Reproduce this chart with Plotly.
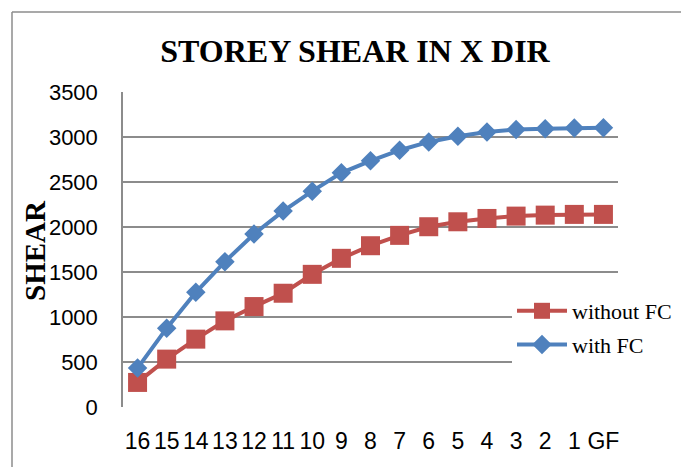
import plotly.graph_objects as go

storeys = ["16", "15", "14", "13", "12", "11", "10", "9", "8", "7", "6", "5", "4", "3", "2", "1", "GF"]
without_fc = [273, 532, 754, 957, 1116, 1264, 1474, 1652, 1792, 1907, 2003, 2058, 2095, 2121, 2132, 2140, 2140]
with_fc = [432, 876, 1275, 1615, 1922, 2177, 2398, 2602, 2735, 2853, 2945, 3008, 3056, 3082, 3093, 3100, 3104]
y_ticks = [0, 500, 1000, 1500, 2000, 2500, 3000, 3500]

RED = "#C0504D"
BLUE = "#4F81BD"
GRID = "#8c8c8c"

fig = go.Figure()
fig.add_trace(go.Scatter(
    x=storeys, y=without_fc, name="without FC", mode="lines+markers",
    legendgroup="a",
    line=dict(color=RED, width=4),
    marker=dict(symbol="square", size=19, color=RED),
))
fig.add_trace(go.Scatter(
    x=storeys, y=with_fc, name="with FC", mode="lines+markers",
    legendgroup="b",
    line=dict(color=BLUE, width=4),
    marker=dict(symbol="diamond", size=15, color=BLUE),
))

# page body has an 8px margin: work in screen pixels and shift
OFF = 8
W, H = 689 - OFF, 467 - OFF
L, R, T, B = 123 - OFF, 71, 92 - OFF, 60
pw, ph = W - L - R, H - T - B

def px_x(p):
    return (p - OFF - L) / pw

def px_y(p):
    return (H - B - (p - OFF)) / ph

fig.update_layout(
    width=W, height=H,
    margin=dict(l=L, r=R, t=T, b=B, autoexpand=False),
    paper_bgcolor="white", plot_bgcolor="white",
    title=dict(text="<b>STOREY SHEAR IN X DIR</b>", x=(355 - OFF) / W, xanchor="center",
               y=1 - (51 - OFF) / H, yanchor="middle",
               font=dict(family="Liberation Serif", size=32, color="black")),
    showlegend=True,
    legend=dict(x=px_x(512), y=px_y(290), xanchor="left", yanchor="top",
                bgcolor="white", borderwidth=0, itemwidth=50,
                traceorder="grouped", tracegroupgap=2,
                font=dict(family="Liberation Serif", size=22, color="black")),
    xaxis=dict(type="category", tickmode="array", tickvals=storeys, ticktext=storeys,
               tickangle=0, showgrid=False, showline=False, zeroline=False,
               ticks="outside", ticklen=13, tickcolor="rgba(0,0,0,0)",
               tickfont=dict(family="Liberation Sans", size=23, color="black"),
               range=[-0.5, len(storeys) - 0.5]),
    yaxis=dict(range=[0, 3500], tickmode="array", tickvals=y_ticks,
               showgrid=True, gridcolor=GRID, gridwidth=1.5,
               showline=True, linecolor=GRID, linewidth=1.5, zeroline=False,
               ticks="outside", ticklen=19, tickcolor="rgba(0,0,0,0)",
               tickfont=dict(family="Liberation Sans", size=22, color="black")),
    annotations=[dict(text="<b>SHEAR</b>", textangle=-90, xref="paper", yref="paper",
                      x=px_x(35), y=px_y(251), xanchor="center", yanchor="middle",
                      showarrow=False,
                      font=dict(family="Liberation Serif", size=29, color="black"))],
    shapes=[
        dict(type="line", xref="paper", yref="paper", x0=px_x(12), x1=px_x(12),
             y0=px_y(12), y1=px_y(500), line=dict(color=GRID, width=1.5)),
        dict(type="line", xref="paper", yref="paper", x0=px_x(12), x1=px_x(700),
             y0=px_y(12), y1=px_y(12), line=dict(color=GRID, width=1.5)),
    ],
)

fig.write_html("out.html")
